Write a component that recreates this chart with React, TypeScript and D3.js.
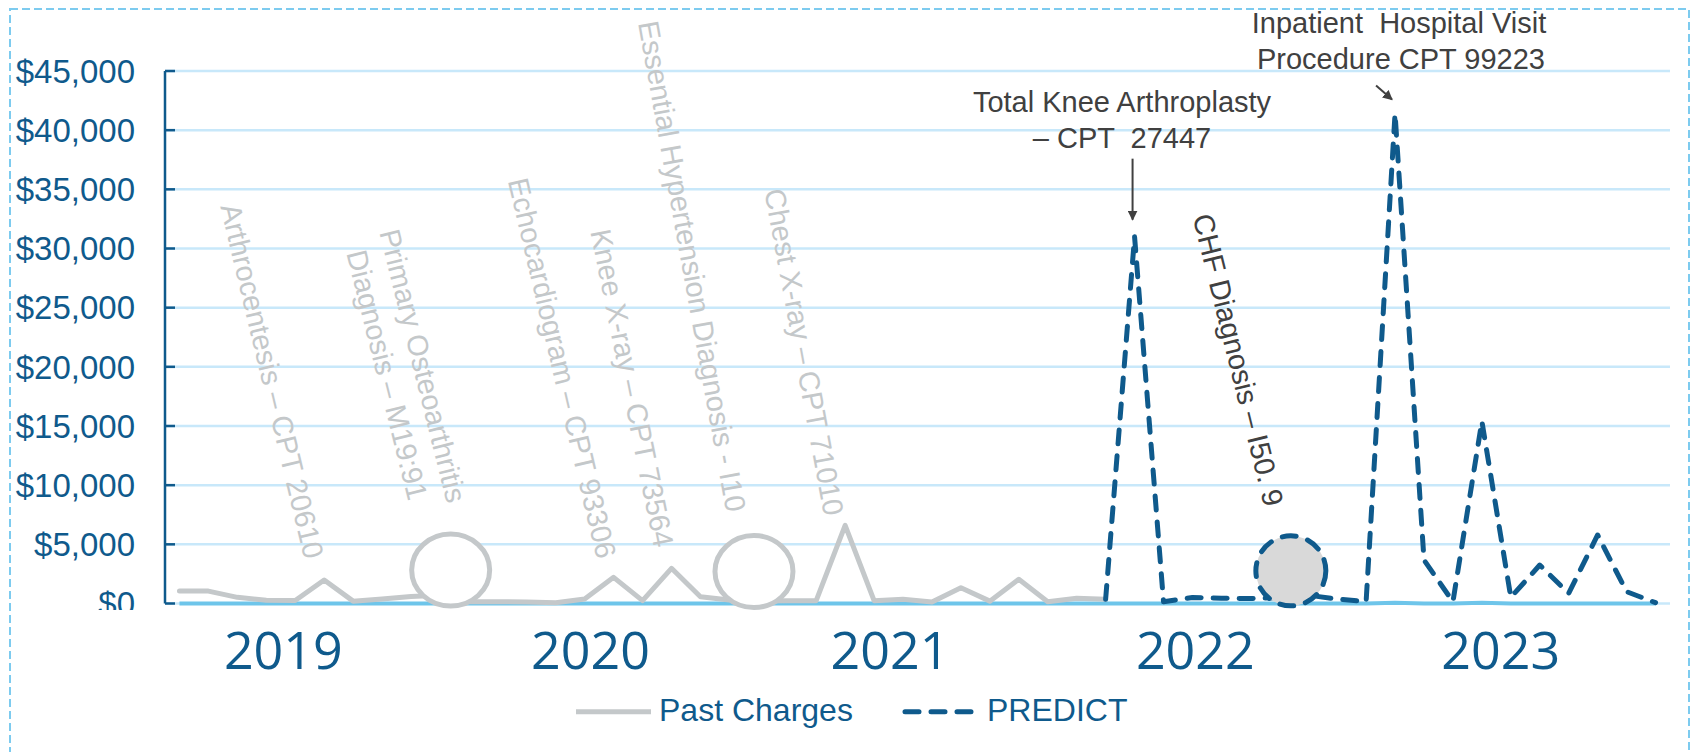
import React from "react";
import * as d3 from "d3";

const W = 1692;
const H = 752;

// Charges per billing period (category slots 0..51)
const pastCharges = [
  1050, 1050, 520, 280, 250, 1985, 200, 380, 600, 700, 150, 150, 120, 70, 380,
  2210, 240, 2975, 575, 300, 200, 240, 240, 6600, 240, 350, 130, 1340, 200,
  2045, 150, 440, 350,
];
const predictStart = 32;
const predicted = [
  350, 31000, 150, 500, 440, 420, 500, 700, 380, 150, 41400, 3680, 150, 15400,
  520, 3250, 860, 5790, 1000, 70,
];
const settledCharges = [
  0, 0, 0, 0, 0, 0, 0, 0, 0, 0, 0, 0, 0, 0, 0, 0, 0, 0, 0, 0, 0, 0, 0, 0, 0, 0,
  0, 0, 0, 0, 0, 0, 0, 0, 0, 0, 0, 0, 0, 0, 0, 0, 60, 0, 0, 60, 0, 0, 0, 0, 0, 0,
];

const yTicks = [0, 5000, 10000, 15000, 20000, 25000, 30000, 35000, 40000, 45000];
const yearLabels = ["2019", "2020", "2021", "2022", "2023"];
const yearSlots = [3.59, 14.2, 24.55, 35.1, 45.65];
const legendLabels = ["Past Charges", "PREDICT"];

// Clinical events written along the history (slot, value = text centre)
const eventLabels = [
  { lines: ["Arthrocentesis – CPT 20610"], slot: 3.2, value: 18800, angle: 76.6, dark: false },
  { lines: ["Primary Osteoarthritis", "Diagnosis – M19:91"], slot: 7.79, value: 19700, angle: 76, dark: false },
  { lines: ["Echocardiogram – CPT 93306"], slot: 13.22, value: 19900, angle: 76.8, dark: false },
  { lines: ["Knee X-ray – CPT 73564"], slot: 15.64, value: 18200, angle: 78.6, dark: false },
  { lines: ["Essential Hypertension Diagnosis - I10"], slot: 17.71, value: 28500, angle: 79.8, dark: false },
  { lines: ["Chest X-ray – CPT 71010"], slot: 21.58, value: 21250, angle: 79.6, dark: false },
  { lines: ["CHF Diagnosis – I50. 9"], slot: 36.58, value: 20580, angle: 76.1, dark: true },
];

// Diagnosis markers sitting on the line
const diagnosisMarks = [
  { slot: 9.37, value: 2830, predicted: false },
  { slot: 19.85, value: 2700, predicted: false },
  { slot: 38.4, value: 2760, predicted: true },
];

const BLUE = "#0f5a8c";
const GRAY = "#c4c8ca";
const GRID = "#c8e8fa";
const BASE = "#6ec5ea";
const DARK = "#404040";
const SANS = "'Liberation Sans', Arial, sans-serif";

export default function App() {
  const left = 165;
  const right = 1670;
  const x = d3.scaleLinear().domain([-0.5, 51.5]).range([left, right]);
  const y = d3.scaleLinear().domain([0, 45000]).range([603.5, 71]);

  const line = d3
    .line<[number, number]>()
    .x((d) => x(d[0]))
    .y((d) => y(d[1]));

  const pastPts: [number, number][] = pastCharges.map((v, i) => [i, v]);
  const predPts: [number, number][] = predicted.map((v, i) => [i + predictStart, v]);
  const settledPts: [number, number][] = settledCharges.map((v, i) => [i, v]);

  const dash = "14 12";

  // arrow targets from the two largest predicted peaks
  const tkaIdx = predPts.reduce((a, b) => (b[1] > 25000 && b[1] < 35000 ? b : a), predPts[0]);
  const topIdx = predPts.reduce((a, b) => (b[1] > a[1] ? b : a), predPts[0]);
  const tkaX = x(tkaIdx[0]) - 2;
  const tkaTip = y(tkaIdx[1]) - 17;
  const topTipX = x(topIdx[0]) - 3;
  const topTipY = y(topIdx[1]) - 14;

  return (
    <svg
      width={W}
      height={H}
      style={{ position: "absolute", left: 0, top: 0, background: "#fff" }}
      fontFamily={SANS}
    >
      <defs>
        <marker id="arrowHead" viewBox="0 0 10 10" refX="9" refY="5" markerWidth="5" markerHeight="5" orient="auto">
          <path d="M0,0 L10,5 L0,10 z" fill={DARK} />
        </marker>
        <clipPath id="yLabelClip">
          <rect x={0} y={0} width={160} height={610} />
        </clipPath>
      </defs>

      <rect x={10} y={9} width={1679} height={770} fill="none" stroke="#7dcbef" strokeWidth={2} strokeDasharray="8 4" />

      {/* gridlines */}
      {yTicks.map((t) => (
        <line key={t} x1={left} x2={right} y1={y(t)} y2={y(t)} stroke={GRID} strokeWidth={2.5} />
      ))}

      {/* value axis */}
      <line x1={left} x2={left} y1={y(45000)} y2={y(0)} stroke={BLUE} strokeWidth={2.5} />
      {yTicks.map((t) => (
        <line key={"tk" + t} x1={left} x2={left + 10} y1={y(t)} y2={y(t)} stroke={BLUE} strokeWidth={2.5} />
      ))}
      <g clipPath="url(#yLabelClip)">
        {yTicks.map((t) => (
          <text key={"yl" + t} x={135} y={y(t) + 11.8} textAnchor="end" fontSize={33} fill={BLUE}>
            {d3.format("$,")(t)}
          </text>
        ))}
      </g>

      {/* year labels */}
      {yearLabels.map((label, i) => (
        <text
          key={label}
          x={x(yearSlots[i])}
          y={669.3}
          textAnchor="middle"
          fontSize={52}
          fontFamily="'Open Sans', 'Noto Sans', sans-serif"
          fill={BLUE}
        >
          {label}
        </text>
      ))}

      {/* event labels */}
      {eventLabels.map((ev, k) => {
        const n = ev.lines.length;
        return (
          <g key={k} transform={`translate(${x(ev.slot)},${y(ev.value)}) rotate(${ev.angle})`}>
            {ev.lines.map((ln, j) => (
              <text
                key={j}
                x={0}
                y={(j - (n - 1) / 2) * 37 + 10}
                textAnchor="middle"
                fontSize={29}
                fill={ev.dark ? DARK : GRAY}
              >
                {ln}
              </text>
            ))}
          </g>
        );
      })}

      {/* series */}
      <path d={line(settledPts) || ""} fill="none" stroke={BASE} strokeWidth={4} />
      <path d={line(pastPts) || ""} fill="none" stroke={GRAY} strokeWidth={5} strokeLinejoin="round" strokeLinecap="round" />
      <path
        d={line(predPts) || ""}
        fill="none"
        stroke={BLUE}
        strokeWidth={5}
        strokeDasharray={dash}
        strokeLinecap="round"
        strokeLinejoin="round"
      />

      {diagnosisMarks.map((m, i) =>
        m.predicted ? (
          <circle
            key={i}
            cx={x(m.slot)}
            cy={y(m.value)}
            r={35}
            fill="#d9d9d9"
            stroke={BLUE}
            strokeWidth={5}
            strokeDasharray={dash}
            strokeLinecap="round"
          />
        ) : (
          <ellipse key={i} cx={x(m.slot)} cy={y(m.value)} rx={39} ry={36} fill="#fff" stroke={GRAY} strokeWidth={5} />
        )
      )}

      {/* callouts */}
      <text fontSize={29} fill={DARK} textAnchor="middle" style={{ whiteSpace: "pre" }}>
        <tspan x={1122} y={111.7}>Total Knee Arthroplasty</tspan>
        <tspan x={1122} y={148}>{"– CPT  27447"}</tspan>
      </text>
      <line x1={tkaX} x2={tkaX} y1={tkaTip - 61} y2={tkaTip} stroke={DARK} strokeWidth={2} markerEnd="url(#arrowHead)" />

      <text fontSize={29} fill={DARK} textAnchor="middle" style={{ whiteSpace: "pre" }}>
        <tspan x={1399} y={33.3}>{"Inpatient  Hospital Visit"}</tspan>
        <tspan x={1401} y={69}>Procedure CPT 99223</tspan>
      </text>
      <line x1={topTipX - 16} x2={topTipX} y1={topTipY - 14} y2={topTipY} stroke={DARK} strokeWidth={2} markerEnd="url(#arrowHead)" />

      {/* legend */}
      <line x1={576} x2={651} y1={711.7} y2={711.7} stroke={GRAY} strokeWidth={5} />
      <text x={659} y={721} fontSize={32} fill={BLUE}>
        {legendLabels[0]}
      </text>
      <line x1={905} x2={976} y1={711.7} y2={711.7} stroke={BLUE} strokeWidth={5} strokeDasharray={dash} strokeLinecap="round" />
      <text x={987} y={721} fontSize={32} fill={BLUE}>
        {legendLabels[1]}
      </text>
    </svg>
  );
}
